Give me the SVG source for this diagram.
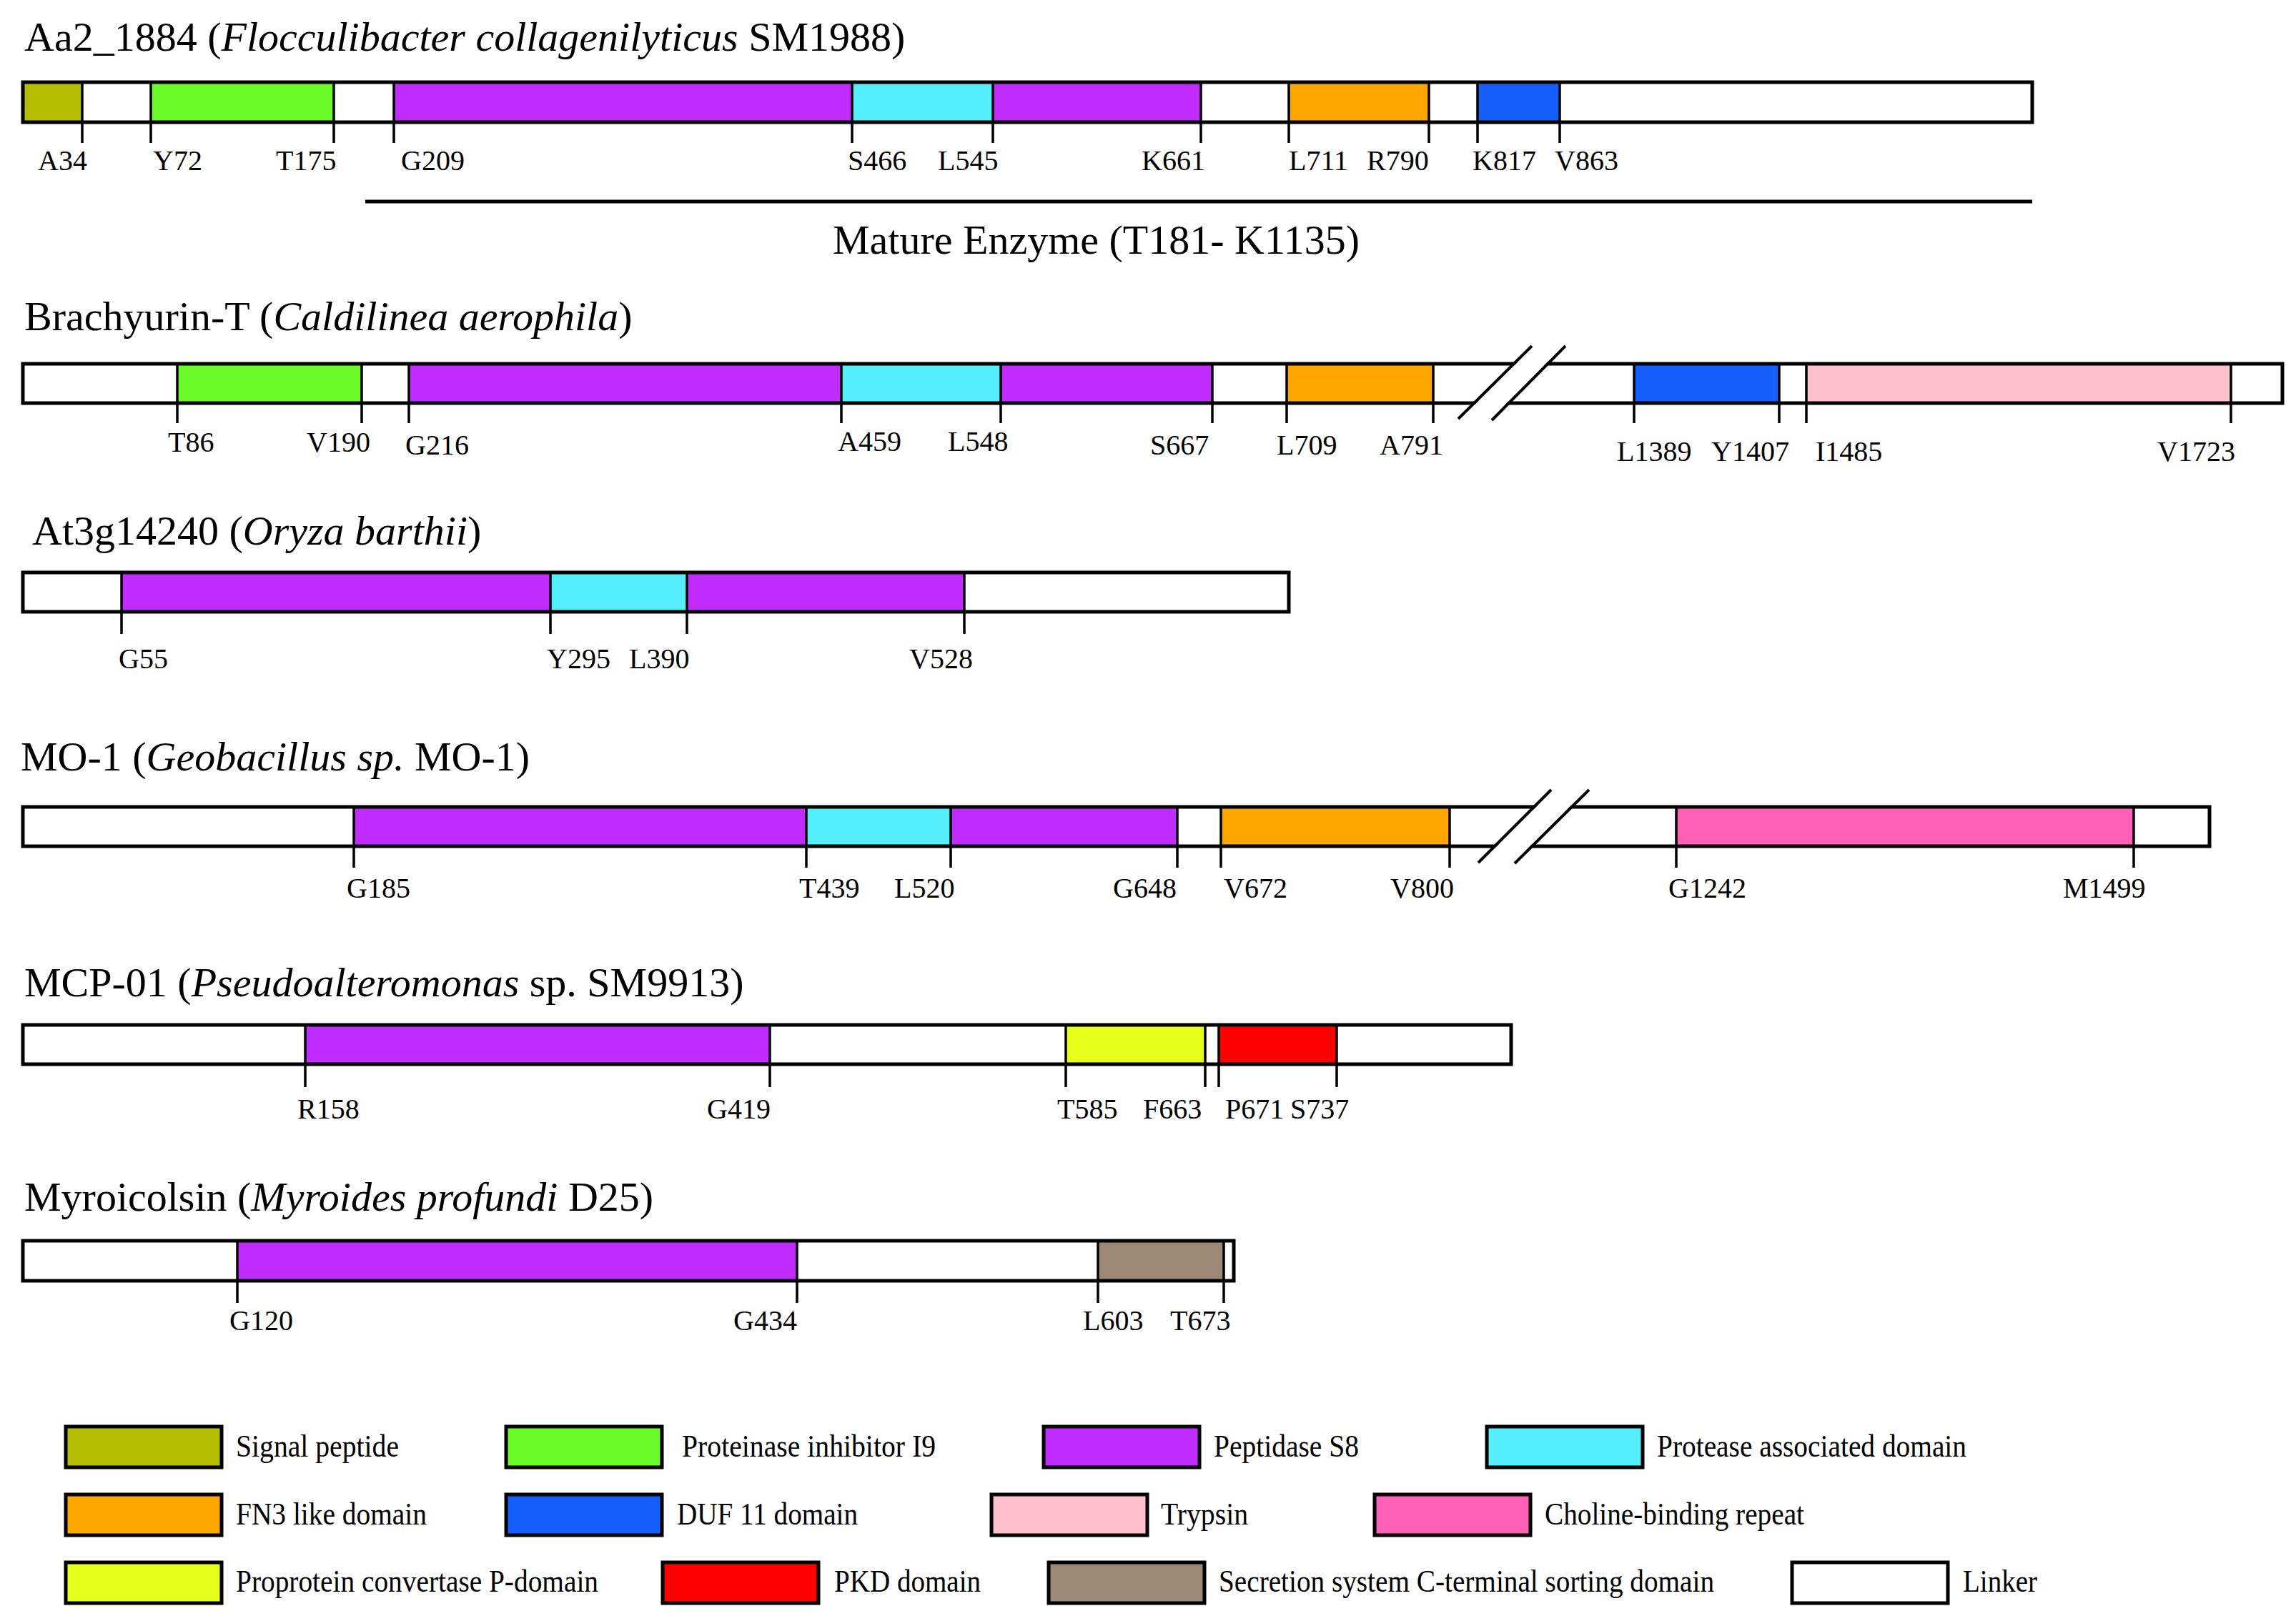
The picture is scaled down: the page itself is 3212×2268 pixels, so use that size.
<svg xmlns="http://www.w3.org/2000/svg" width="3212" height="2268" viewBox="0 0 3212 2268">
<style>
.ttl{font-family:"Liberation Serif","Times New Roman",serif;font-size:58px;fill:#000}
.lbl{font-family:"Liberation Serif","Times New Roman",serif;font-size:40px;fill:#000}
.leg{font-family:"Liberation Serif","Times New Roman",serif;font-size:44px;fill:#000}
.it{font-style:italic}
.bar{fill:none;stroke:#000;stroke-width:5}
.dv{stroke:#000;stroke-width:3.5;fill:none}
.brk{stroke:#000;stroke-width:4;fill:none}
.key{stroke:#000;stroke-width:5}
.sp{fill:#b5bd00}.pi{fill:#6bfb2b}.ps8{fill:#c12bfd}.pa{fill:#54eefc}.fn3{fill:#ffa500}.duf{fill:#1560fc}
.try{fill:#ffbfcb}.cho{fill:#ff5fb4}.ppc{fill:#e5ff1a}.pkd{fill:#ff0000}.sec{fill:#9b8877}.lnk{fill:#fff}
</style>
<rect width="3212" height="2268" fill="#fff"/>

<g id="aa2_1884">
<text class="ttl" x="34" y="71">Aa2_1884 (<tspan class="it">Flocculibacter collagenilyticus</tspan> SM1988)</text>
<rect class="sp" x="32" y="115" width="83" height="56"/>
<rect class="pi" x="211" y="115" width="256" height="56"/>
<rect class="ps8" x="551" y="115" width="641" height="56"/>
<rect class="pa" x="1192" y="115" width="197" height="56"/>
<rect class="ps8" x="1389" y="115" width="291" height="56"/>
<rect class="fn3" x="1803" y="115" width="196" height="56"/>
<rect class="duf" x="2067" y="115" width="115" height="56"/>
<path class="dv" d="M115 115V200M211 115V200M467 115V200M551 115V200M1192 115V200M1389 115V200M1680 115V200M1803 115V200M1999 115V200M2067 115V200M2182 115V200"/>
<rect class="bar" x="32" y="115" width="2811" height="56"/>
<text class="lbl" y="238"><tspan x="53">A34</tspan><tspan x="214">Y72</tspan><tspan x="386">T175</tspan><tspan x="561">G209</tspan><tspan x="1186">S466</tspan><tspan x="1312">L545</tspan><tspan x="1597">K661</tspan><tspan x="1803">L711</tspan><tspan x="1912">R790</tspan><tspan x="2060">K817</tspan><tspan x="2175">V863</tspan></text>
</g>

<g id="connectors">
<g id="mature_enzyme">
<line x1="511" y1="282" x2="2843" y2="282" stroke="#000" stroke-width="5"/>
<text class="ttl" x="1165" y="355">Mature Enzyme (T181- K1135)</text>
</g>
</g>

<g id="brachyurin_t">
<text class="ttl" x="34" y="462">Brachyurin-T (<tspan class="it">Caldilinea aerophila</tspan>)</text>
<rect class="pi" x="248" y="509" width="258" height="55"/>
<rect class="ps8" x="572" y="509" width="605" height="55"/>
<rect class="pa" x="1177" y="509" width="223" height="55"/>
<rect class="ps8" x="1400" y="509" width="296" height="55"/>
<rect class="fn3" x="1800" y="509" width="205" height="55"/>
<rect class="duf" x="2286" y="509" width="203" height="55"/>
<rect class="try" x="2527" y="509" width="594" height="55"/>
<path class="dv" d="M248 509V592M506 509V592M572 509V592M1177 509V592M1400 509V592M1696 509V592M1800 509V592M2005 509V592M2286 509V592M2489 509V592M2527 509V592M3121 509V592"/>
<rect class="bar" x="32" y="509" width="3161" height="55"/>
<polygon points="2043,586 2146,484 2187,484 2084,588" fill="#fff"/>
<path class="brk" d="M2040 586L2143 484M2087 588L2190 484"/>
<text class="lbl"><tspan x="235" y="632">T86</tspan><tspan x="429" y="632">V190</tspan><tspan x="567" y="636">G216</tspan><tspan x="1172" y="631">A459</tspan><tspan x="1326" y="631">L548</tspan><tspan x="1609" y="636">S667</tspan><tspan x="1786" y="636">L709</tspan><tspan x="1930" y="636">A791</tspan><tspan x="2262" y="645">L1389</tspan><tspan x="2394" y="645">Y1407</tspan><tspan x="2540" y="645">I1485</tspan><tspan x="3018" y="645">V1723</tspan></text>
</g>

<g id="at3g14240">
<text class="ttl" x="45" y="762">At3g14240 (<tspan class="it">Oryza barthii</tspan>)</text>
<rect class="ps8" x="170" y="801" width="600" height="55"/>
<rect class="pa" x="770" y="801" width="191" height="55"/>
<rect class="ps8" x="961" y="801" width="388" height="55"/>
<path class="dv" d="M170 801V887M770 801V887M961 801V887M1349 801V887"/>
<rect class="bar" x="32" y="801" width="1771" height="55"/>
<text class="lbl" y="935"><tspan x="166">G55</tspan><tspan x="765">Y295</tspan><tspan x="880">L390</tspan><tspan x="1272">V528</tspan></text>
</g>

<g id="mo_1">
<text class="ttl" x="29" y="1078">MO-1 (<tspan class="it">Geobacillus sp.</tspan> MO-1)</text>
<rect class="ps8" x="495" y="1129" width="633" height="55"/>
<rect class="pa" x="1128" y="1129" width="202" height="55"/>
<rect class="ps8" x="1330" y="1129" width="317" height="55"/>
<rect class="fn3" x="1708" y="1129" width="320" height="55"/>
<rect class="cho" x="2345" y="1129" width="640" height="55"/>
<path class="dv" d="M495 1129V1214M1128 1129V1214M1330 1129V1214M1647 1129V1214M1708 1129V1214M2028 1129V1214M2345 1129V1214M2985 1129V1214"/>
<rect class="bar" x="32" y="1129" width="3059" height="55"/>
<polygon points="2071,1207 2173,1105 2220,1105 2116,1208" fill="#fff"/>
<path class="brk" d="M2068 1207L2170 1105M2119 1208L2223 1105"/>
<text class="lbl" y="1256"><tspan x="485">G185</tspan><tspan x="1118">T439</tspan><tspan x="1251">L520</tspan><tspan x="1557">G648</tspan><tspan x="1712">V672</tspan><tspan x="1945">V800</tspan><tspan x="2334">G1242</tspan><tspan x="2886">M1499</tspan></text>
</g>

<g id="mcp_01">
<text class="ttl" x="34" y="1394">MCP-01 (<tspan class="it">Pseudoalteromonas</tspan> sp. SM9913)</text>
<rect class="ps8" x="427" y="1434" width="650" height="55"/>
<rect class="ppc" x="1491" y="1434" width="195" height="55"/>
<rect class="pkd" x="1705" y="1434" width="165" height="55"/>
<path class="dv" d="M427 1434V1521M1077 1434V1521M1491 1434V1521M1686 1434V1521M1705 1434V1521M1870 1434V1521"/>
<rect class="bar" x="32" y="1434" width="2082" height="55"/>
<text class="lbl" y="1565"><tspan x="416">R158</tspan><tspan x="989">G419</tspan><tspan x="1479">T585</tspan><tspan x="1599">F663</tspan><tspan x="1714">P671</tspan><tspan x="1805">S737</tspan></text>
</g>

<g id="myroicolsin">
<text class="ttl" x="34" y="1694">Myroicolsin (<tspan class="it">Myroides profundi</tspan> D25)</text>
<rect class="ps8" x="332" y="1736" width="783" height="56"/>
<rect class="sec" x="1536" y="1736" width="176" height="56"/>
<path class="dv" d="M332 1736V1823M1115 1736V1823M1536 1736V1823M1712 1736V1823"/>
<rect class="bar" x="32" y="1736" width="1694" height="56"/>
<text class="lbl" y="1861"><tspan x="321">G120</tspan><tspan x="1026">G434</tspan><tspan x="1515">L603</tspan><tspan x="1637">T673</tspan></text>
</g>

<g id="legend">
<g id="leg_signal"><rect class="key sp" x="92" y="1996" width="218" height="57"/><text class="leg" x="330" y="2038" textLength="228" lengthAdjust="spacingAndGlyphs">Signal peptide</text></g>
<g id="leg_pi"><rect class="key pi" x="708" y="1996" width="218" height="57"/><text class="leg" x="954" y="2038" textLength="355" lengthAdjust="spacingAndGlyphs">Proteinase inhibitor I9</text></g>
<g id="leg_ps8"><rect class="key ps8" x="1460" y="1996" width="218" height="57"/><text class="leg" x="1698" y="2038" textLength="203" lengthAdjust="spacingAndGlyphs">Peptidase S8</text></g>
<g id="leg_pa"><rect class="key pa" x="2080" y="1996" width="218" height="57"/><text class="leg" x="2318" y="2038" textLength="433" lengthAdjust="spacingAndGlyphs">Protease associated domain</text></g>
<g id="leg_fn3"><rect class="key fn3" x="92" y="2091" width="218" height="57"/><text class="leg" x="330" y="2133" textLength="267" lengthAdjust="spacingAndGlyphs">FN3 like domain</text></g>
<g id="leg_duf"><rect class="key duf" x="708" y="2091" width="218" height="57"/><text class="leg" x="947" y="2133" textLength="253" lengthAdjust="spacingAndGlyphs">DUF 11 domain</text></g>
<g id="leg_try"><rect class="key try" x="1387" y="2091" width="218" height="57"/><text class="leg" x="1624" y="2133" textLength="122" lengthAdjust="spacingAndGlyphs">Trypsin</text></g>
<g id="leg_cho"><rect class="key cho" x="1923" y="2091" width="218" height="57"/><text class="leg" x="2161" y="2133" textLength="363" lengthAdjust="spacingAndGlyphs">Choline-binding repeat</text></g>
<g id="leg_ppc"><rect class="key ppc" x="92" y="2186" width="218" height="57"/><text class="leg" x="330" y="2227" textLength="507" lengthAdjust="spacingAndGlyphs">Proprotein convertase P-domain</text></g>
<g id="leg_pkd"><rect class="key pkd" x="927" y="2186" width="218" height="57"/><text class="leg" x="1167" y="2227" textLength="205" lengthAdjust="spacingAndGlyphs">PKD domain</text></g>
<g id="leg_sec"><rect class="key sec" x="1467" y="2186" width="218" height="57"/><text class="leg" x="1705" y="2227" textLength="693" lengthAdjust="spacingAndGlyphs">Secretion system C-terminal sorting domain</text></g>
<g id="leg_lnk"><rect class="key lnk" x="2507" y="2186" width="218" height="57"/><text class="leg" x="2746" y="2227" textLength="104" lengthAdjust="spacingAndGlyphs">Linker</text></g>
</g>
</svg>
